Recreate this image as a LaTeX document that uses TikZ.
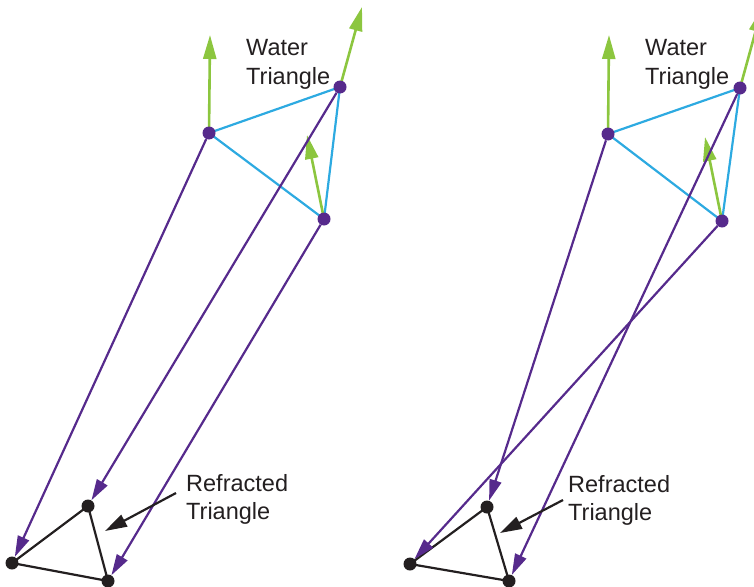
\documentclass[tikz,border=0pt]{standalone}
\usepackage{fontspec}
\setmainfont{Liberation Sans}
\usetikzlibrary{arrows.meta}
\definecolor{rpurple}{HTML}{562A8C}
\definecolor{rblue}{HTML}{2DAAE1}
\definecolor{rgreen}{HTML}{8CC63F}
\definecolor{rblack}{HTML}{231F20}
\tikzset{
  pt/.style={circle,inner sep=0pt,minimum size=13pt},
  pdot/.style={circle,fill=rpurple,inner sep=0pt,minimum size=13pt},
  bdot/.style={circle,fill=rblack,inner sep=0pt,minimum size=13pt},
  parrow/.style={draw=rpurple,line width=2.2pt,-{Triangle[length=21pt,width=12pt]}},
  garrow/.style={draw=rgreen,line width=2.6pt,-{Triangle[length=24pt,width=13pt]}},
  blue line/.style={draw=rblue,line width=2.2pt},
  tri line/.style={draw=rblack,line width=2.2pt},
  karrow/.style={draw=rblack,line width=2.2pt,-{Triangle[length=22pt,width=13pt]}},
  lbl/.style={anchor=base west,inner sep=0pt,text=rblack,font=\fontsize{23.5}{28}\selectfont}
}
\begin{document}
\begin{tikzpicture}[x=1pt,y=-1pt]
\clip (0,0) rectangle (754,586);
% ---------- left panel ----------
\node[pt] (A) at (209,133) {};
\node[pt] (B) at (340,87) {};
\node[pt] (C) at (324,219) {};
\node[pt] (P) at (88,506) {};
\node[pt] (Q) at (12,563) {};
\node[pt] (R) at (108,581) {};
\draw[blue line] (A.center) -- (B.center) -- (C.center) -- cycle;
\coordinate (gA) at (210,35);
\coordinate (gB) at (362,7);
\coordinate (gC) at (307,135);
\draw[garrow] (A.center) -- (gA);
\draw[garrow] (B.center) -- (gB);
\draw[garrow] (C.center) -- (gC);
\draw[tri line] (P.center) -- (Q.center) -- (R.center) -- cycle;
\draw[parrow] (A) -- (Q);
\draw[parrow] (B) -- (P);
\draw[parrow] (C) -- (R);
\foreach \n in {A,B,C} \node[pdot] at (\n) {};
\foreach \n in {P,Q,R} \node[bdot] at (\n) {};
\node[lbl] (wl) at (246,56) {Water};
\node[lbl] (wl2) at (246,84) {Triangle};
\node[lbl] (rl) at (186,491) {Refracted};
\node[lbl] (rl2) at (186,519) {Triangle};
\coordinate (ks) at (176,493);
\coordinate (ka) at (105,531);
\draw[karrow] (ks) -- (ka);
% ---------- right panel ----------
\node[pt] (A2) at (608,134) {};
\node[pt] (B2) at (740,88) {};
\node[pt] (C2) at (722,221) {};
\node[pt] (P2) at (487,507) {};
\node[pt] (Q2) at (410,564) {};
\node[pt] (R2) at (509,581) {};
\draw[blue line] (A2.center) -- (B2.center) -- (C2.center) -- cycle;
\coordinate (gA2) at (609,35);
\coordinate (gB2) at (762,8);
\coordinate (gC2) at (705,137);
\draw[garrow] (A2.center) -- (gA2);
\draw[garrow] (B2.center) -- (gB2);
\draw[garrow] (C2.center) -- (gC2);
\draw[tri line] (P2.center) -- (Q2.center) -- (R2.center) -- cycle;
\draw[parrow] (A2) -- (P2);
\draw[parrow] (B2) -- (R2);
\draw[parrow] (C2) -- (Q2);
\foreach \n in {A2,B2,C2} \node[pdot] at (\n) {};
\foreach \n in {P2,Q2,R2} \node[bdot] at (\n) {};
\node[lbl] (wr) at (645,56) {Water};
\node[lbl] (wr2) at (645,84) {Triangle};
\node[lbl] (rr) at (568,492) {Refracted};
\node[lbl] (rr2) at (568,520) {Triangle};
\coordinate (ks2) at (563,500);
\coordinate (ka2) at (500,533);
\draw[karrow] (ks2) -- (ka2);
\end{tikzpicture}
\end{document}
